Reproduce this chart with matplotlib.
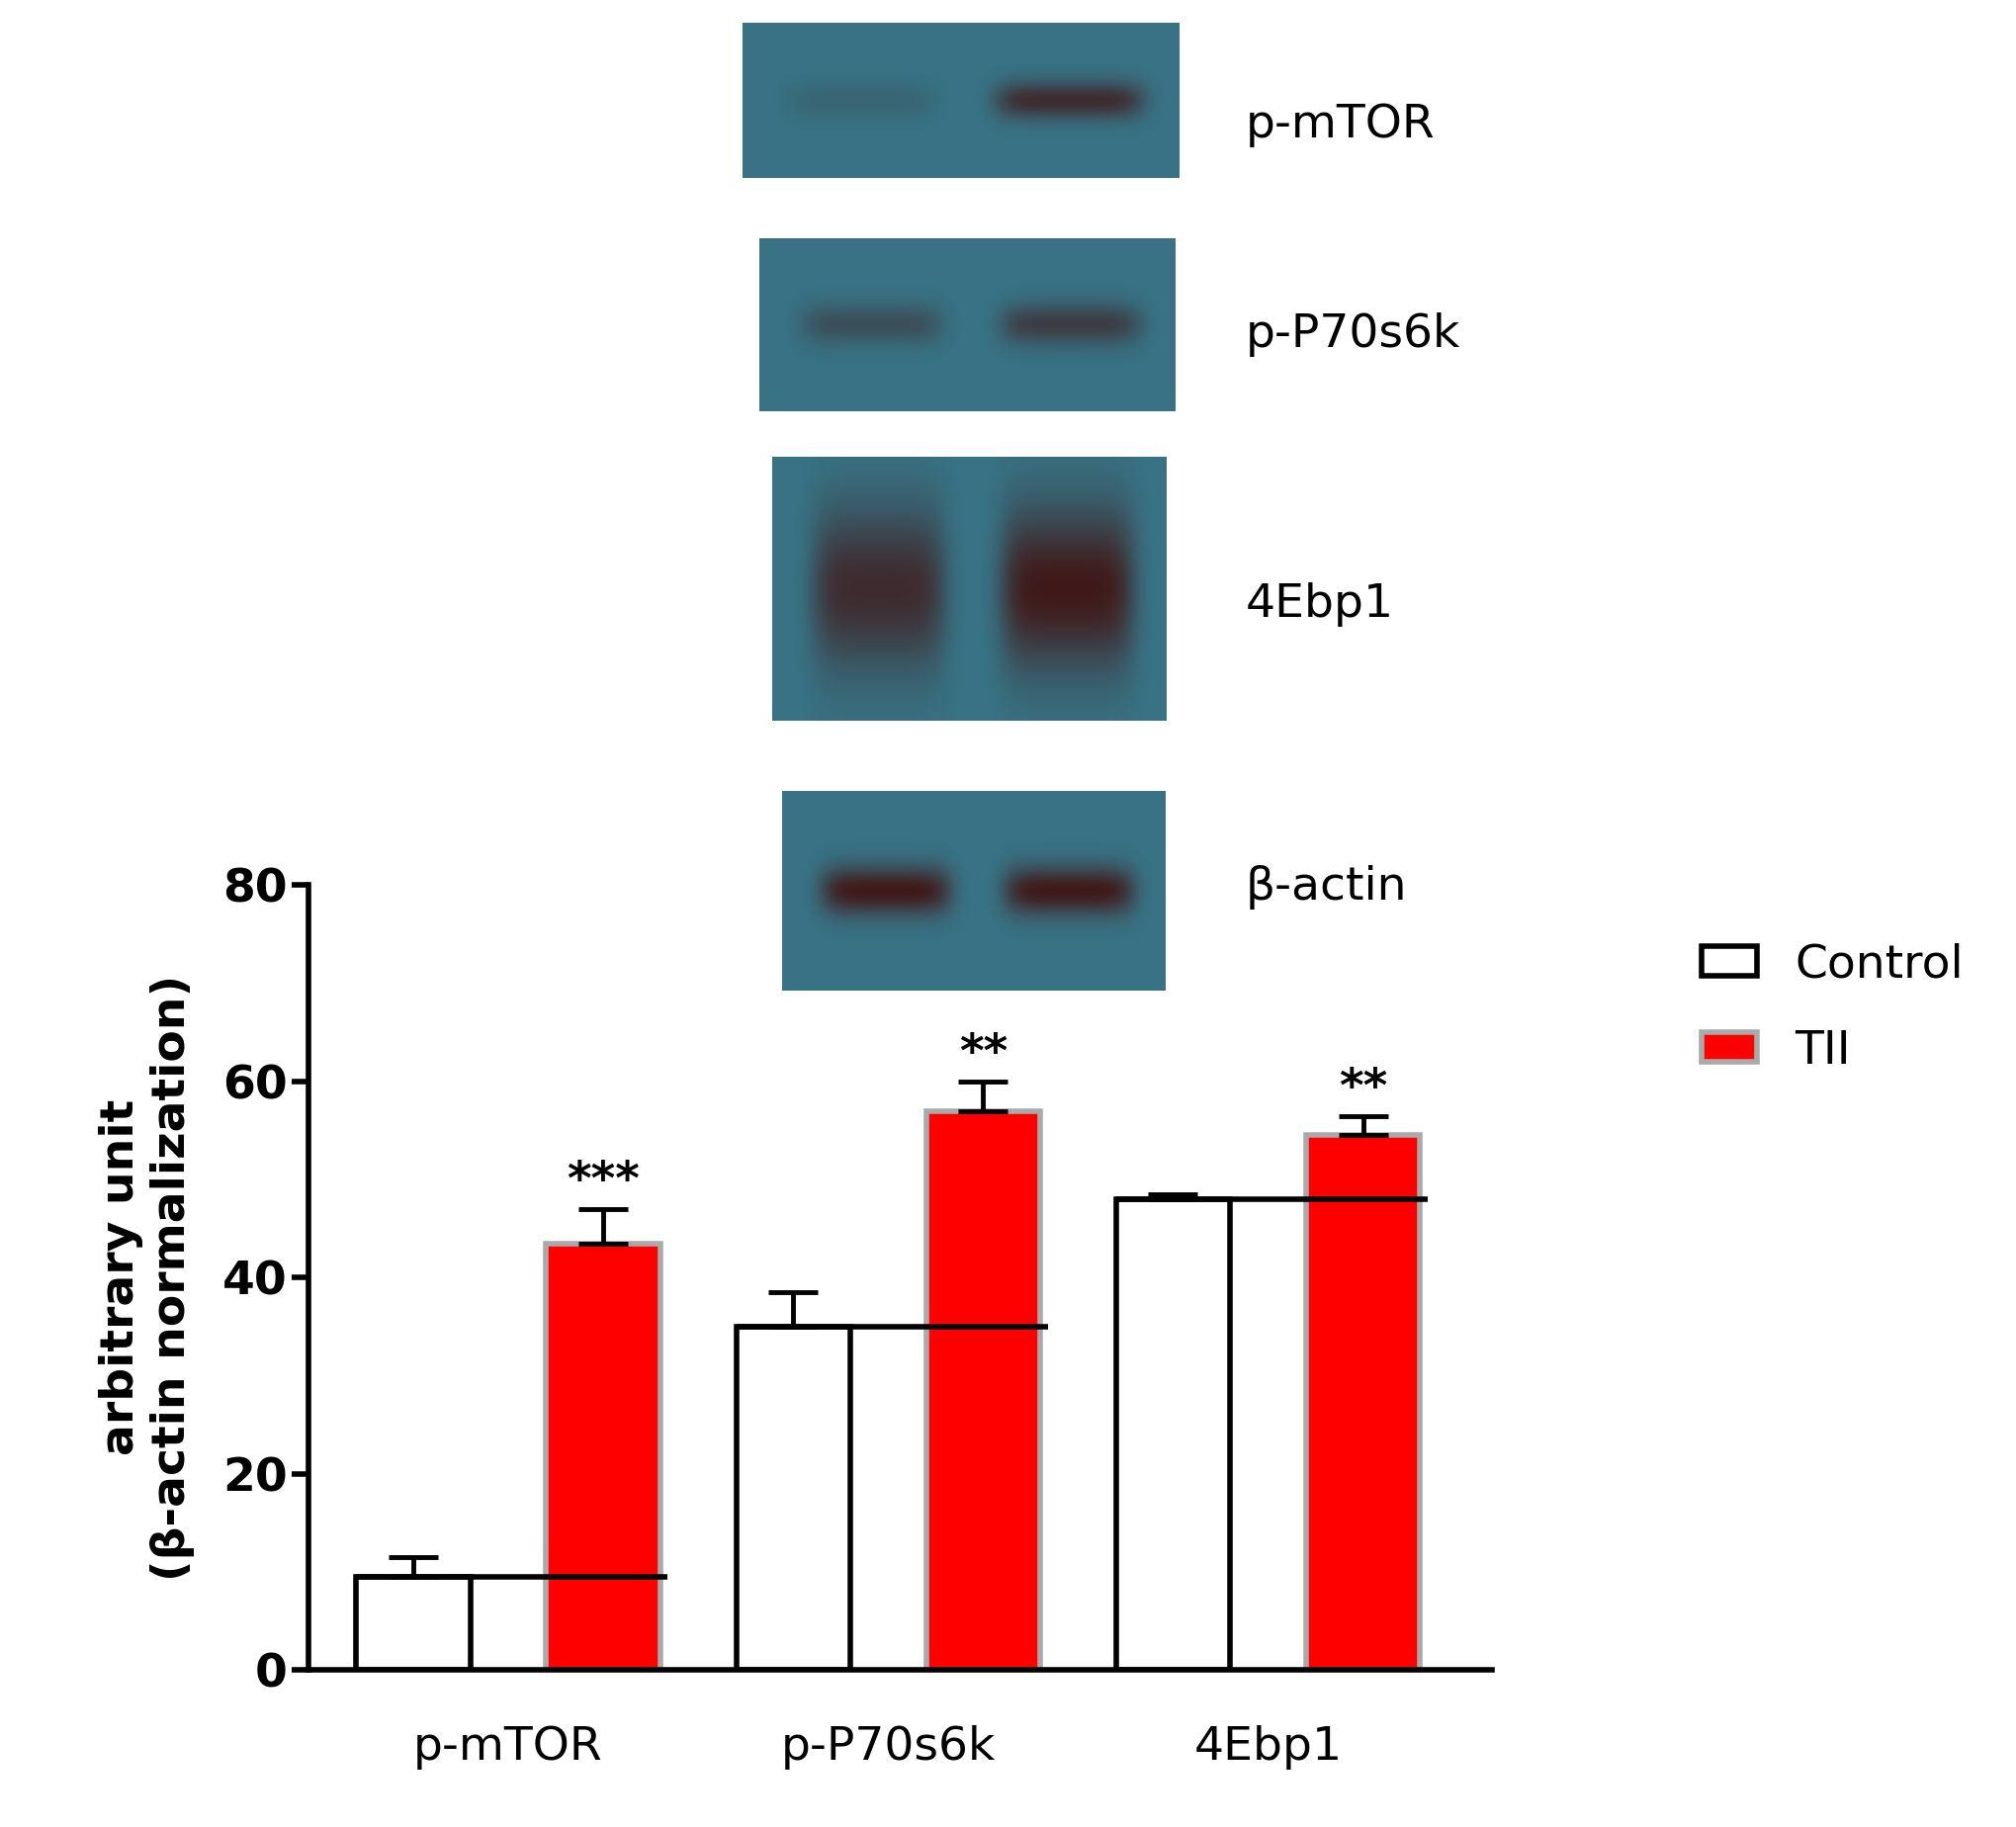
import numpy as np
import matplotlib.pyplot as plt
from matplotlib.patches import Patch

groups = ["p-mTOR", "p-P70s6k", "4Ebp1"]
control = [9.5, 35, 48]
control_err = [2, 3.5, 0.5]
tii = [43.5, 57, 54.5]
tii_err = [3.5, 3, 2]
stars = ["***", "**", "**"]
blot_labels = ["p-mTOR", "p-P70s6k", "4Ebp1", "β-actin"]
band_strength = [(0.15, 0.8), (0.4, 0.6), (0.8, 1.0), (1.0, 1.0)]

W, H = 1568, 1420
fig = plt.figure(figsize=(20.4, 18.48), dpi=100)

def frac(x0, y0, x1, y1):
    return [x0 / W, 1 - y1 / H, (x1 - x0) / W, (y1 - y0) / H]

ax = fig.add_axes(frac(240, 688, 1160, 1298))
x = np.arange(len(groups))
off, bw = 0.25, 0.3
ax.bar(x - off, control, bw, color="white", edgecolor="black", linewidth=4, zorder=2)
ax.bar(x + off, tii, bw, color="#ff0000", edgecolor="#aaaaaa", linewidth=4, zorder=2)
ax.errorbar(x - off, control, yerr=[[0] * 3, control_err], fmt="none", ecolor="black",
            elinewidth=3.5, capsize=18, capthick=3.5, zorder=3)
ax.errorbar(x + off, tii, yerr=[[0] * 3, tii_err], fmt="none", ecolor="black",
            elinewidth=3.5, capsize=18, capthick=3.5, zorder=3)
for i in range(3):
    ax.hlines(control[i], i - off - bw / 2, i + off + bw / 2 + 0.02, color="black", lw=4, zorder=4)
    ax.text(i + off, tii[i] + tii_err[i] + 0.5, stars[i], ha="center", va="bottom",
            fontsize=34, fontweight="bold")
ax.set_xlim(-0.525, 2.59)
ax.set_ylim(0, 80)
ax.set_yticks([0, 20, 40, 60, 80])
ax.set_xticks(x)
ax.set_xticklabels(groups, fontsize=34)
ax.tick_params(axis="x", length=0, pad=40)
ax.tick_params(axis="y", labelsize=34, width=4, length=12)
for t in ax.get_yticklabels():
    t.set_fontweight("bold")
for s in ["top", "right"]:
    ax.spines[s].set_visible(False)
for s in ["left", "bottom"]:
    ax.spines[s].set_linewidth(4)
ax.set_ylabel("arbitrary unit\n(β-actin normalization)", fontsize=34, fontweight="bold", labelpad=20)

leg = fig.legend(handles=[Patch(facecolor="white", edgecolor="black", linewidth=4, label="Control"),
                          Patch(facecolor="#ff0000", edgecolor="#aaaaaa", linewidth=4, label="TII")],
                 loc="upper left", bbox_to_anchor=(1290 / W, 1 - 700 / H), frameon=False,
                 fontsize=34, handlelength=1.2, handleheight=0.6, labelspacing=0.9)

# western blot panels
boxes = [(577, 18, 916, 138), (590, 185, 913, 320), (600, 355, 906, 560), (608, 615, 906, 770)]
label_y = [97, 260, 470, 690]
teal = np.array([0.22, 0.45, 0.52])
dark = np.array([0.25, 0.1, 0.1])
for (x0, y0, x1, y1), lab, ly, (s1, s2) in zip(boxes, blot_labels, label_y, band_strength):
    bax = fig.add_axes(frac(x0, y0, x1, y1))
    xx = np.linspace(0, 1, 200)[None, :]
    yy = np.linspace(0, 1, 120)[:, None]
    tall = lab == "4Ebp1"
    sy = 0.3 if tall else 0.12
    lane = lambda c, s: s * np.exp(-((xx - c) / 0.17) ** 6) * np.exp(-((yy - 0.5) / sy) ** 2)
    a = np.clip(lane(0.27, s1) + lane(0.75, s2), 0, 1)[..., None]
    img = teal * (1 - a) + dark * a
    bax.imshow(img, aspect="auto")
    bax.axis("off")
    fig.text(968 / W, 1 - ly / H, lab, fontsize=34, va="center", ha="left")

plt.savefig("out.png", dpi=100)
